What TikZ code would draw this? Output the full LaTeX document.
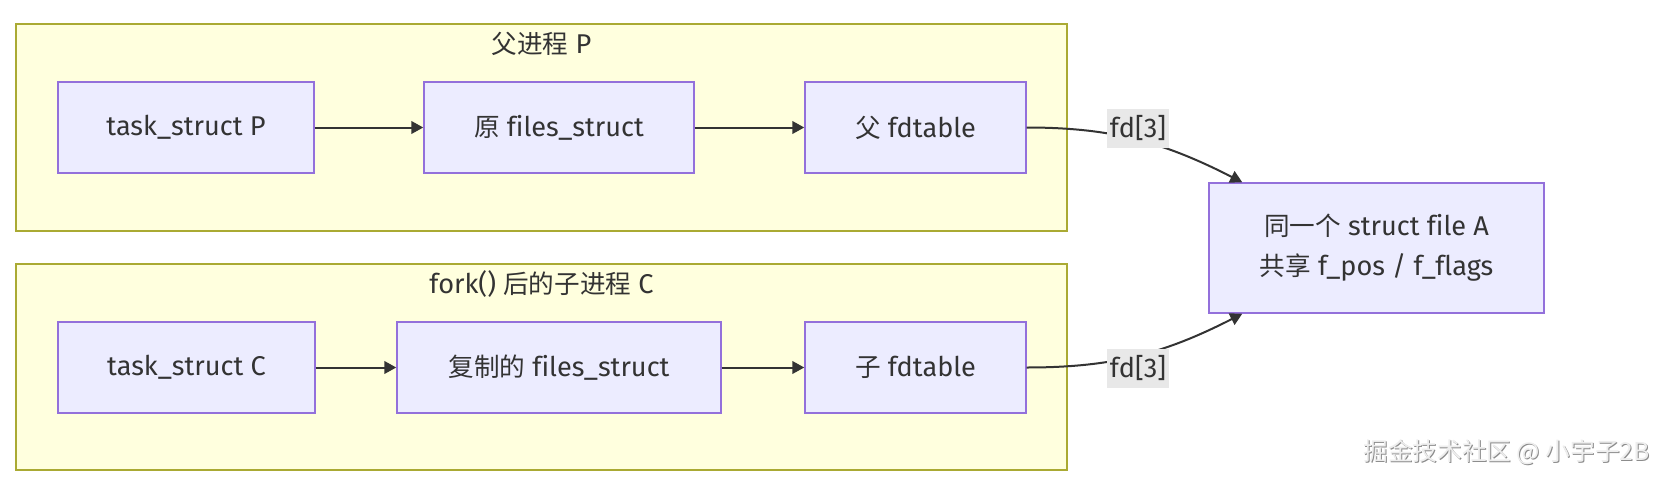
\documentclass[tikz,border=0pt]{standalone}
\usepackage{fontspec}
\setmainfont{Fira Sans}[Scale=1.06, Ligatures=NoCommon]
\newfontfamily\cjk{Noto Sans CJK SC}
\usetikzlibrary{arrows.meta,calc}
\definecolor{nodefill}{HTML}{ECECFF}
\definecolor{nodeborder}{HTML}{9370DB}
\definecolor{clusterfill}{HTML}{FFFFDE}
\definecolor{clusterborder}{HTML}{AAAA33}
\definecolor{edgec}{HTML}{333333}
\definecolor{textc}{HTML}{333333}
\definecolor{labelbg}{HTML}{E8E8E8}
\definecolor{wmfill}{HTML}{EEEEEE}
\definecolor{wmshadow}{HTML}{8C8C8C}
\begin{document}
\begin{tikzpicture}[x=0.75pt,y=0.75pt,
  every node/.style={text=textc, font=\fontsize{19.2}{30}\selectfont},
  box/.style={draw=nodeborder, fill=nodefill, line width=1.1pt, inner sep=0pt, minimum height=68.25pt, align=center},
  cluster/.style={draw=clusterborder, fill=clusterfill, line width=1.1pt, inner sep=0pt},
  edge/.style={draw=edgec, line width=1.5pt, -{Triangle[length=9pt,width=9.5pt]}},
  elabel/.style={fill=labelbg, inner xsep=2pt, inner ysep=0pt, minimum height=29.25pt},
  wm/.style={font=\cjk\fontsize{18.5}{18.5}\selectfont, inner sep=0pt}]
\useasboundingbox (0,0) rectangle (1668,-482);
% clusters
\node[cluster, minimum width=788.25pt, minimum height=155.25pt] (clP) at (541.5,-127.5) {};
\node (tiP) at (541.5,-44) {{\cjk 父进程} P};
\node[cluster, minimum width=788.25pt, minimum height=154.5pt] (clC) at (541.5,-367) {};
\node (tiC) at (541.5,-284) {fork() {\cjk 后的子进程} C};
% nodes
\node[box, minimum width=192pt] (tP) at (186,-127.5) {task\_struct P};
\node[box, minimum width=202.5pt] (fsP) at (559,-127.5) {{\cjk 原} files\_struct};
\node[box, minimum width=165.75pt] (fdP) at (915.5,-127.5) {{\cjk 父} fdtable};
\node[box, minimum width=192.75pt] (tC) at (186.5,-367.5) {task\_struct C};
\node[box, minimum width=243pt] (fsC) at (559,-367.5) {{\cjk 复制的} files\_struct};
\node[box, minimum width=165.75pt] (fdC) at (915.5,-367.5) {{\cjk 子} fdtable};
\node[box, minimum width=251.25pt, minimum height=97.5pt] (fA) at (1376.5,-248) {{\cjk 同一个} struct file A\\{\cjk 共享} f\_pos / f\_flags};
\coordinate (tipP) at ($(fA.north west)+(34,0)$);
\coordinate (tipC) at ($(fA.south west)+(34,0)$);
% edges
\draw[edge] (tP) -- (fsP);
\draw[edge] (fsP) -- (fdP);
\draw[edge] (tC) -- (fsC);
\draw[edge] (fsC) -- (fdC);
\draw[edge] (fdP.east) to[out=0,in=153] (tipP);
\draw[edge] (fdC.east) to[out=0,in=207] (tipC);
\node[elabel] (lP) at (1138,-128) {fd[3]};
\node[elabel] (lC) at (1138,-368) {fd[3]};
% watermark
\node[wm, text=wmshadow] (wms) at (1507.5,-453.5) {掘金技术社区 @ 小宇子2B};
\node[wm, text=wmfill] (wmt) at (1506.5,-452.5) {掘金技术社区 @ 小宇子2B};
\end{tikzpicture}
\end{document}
